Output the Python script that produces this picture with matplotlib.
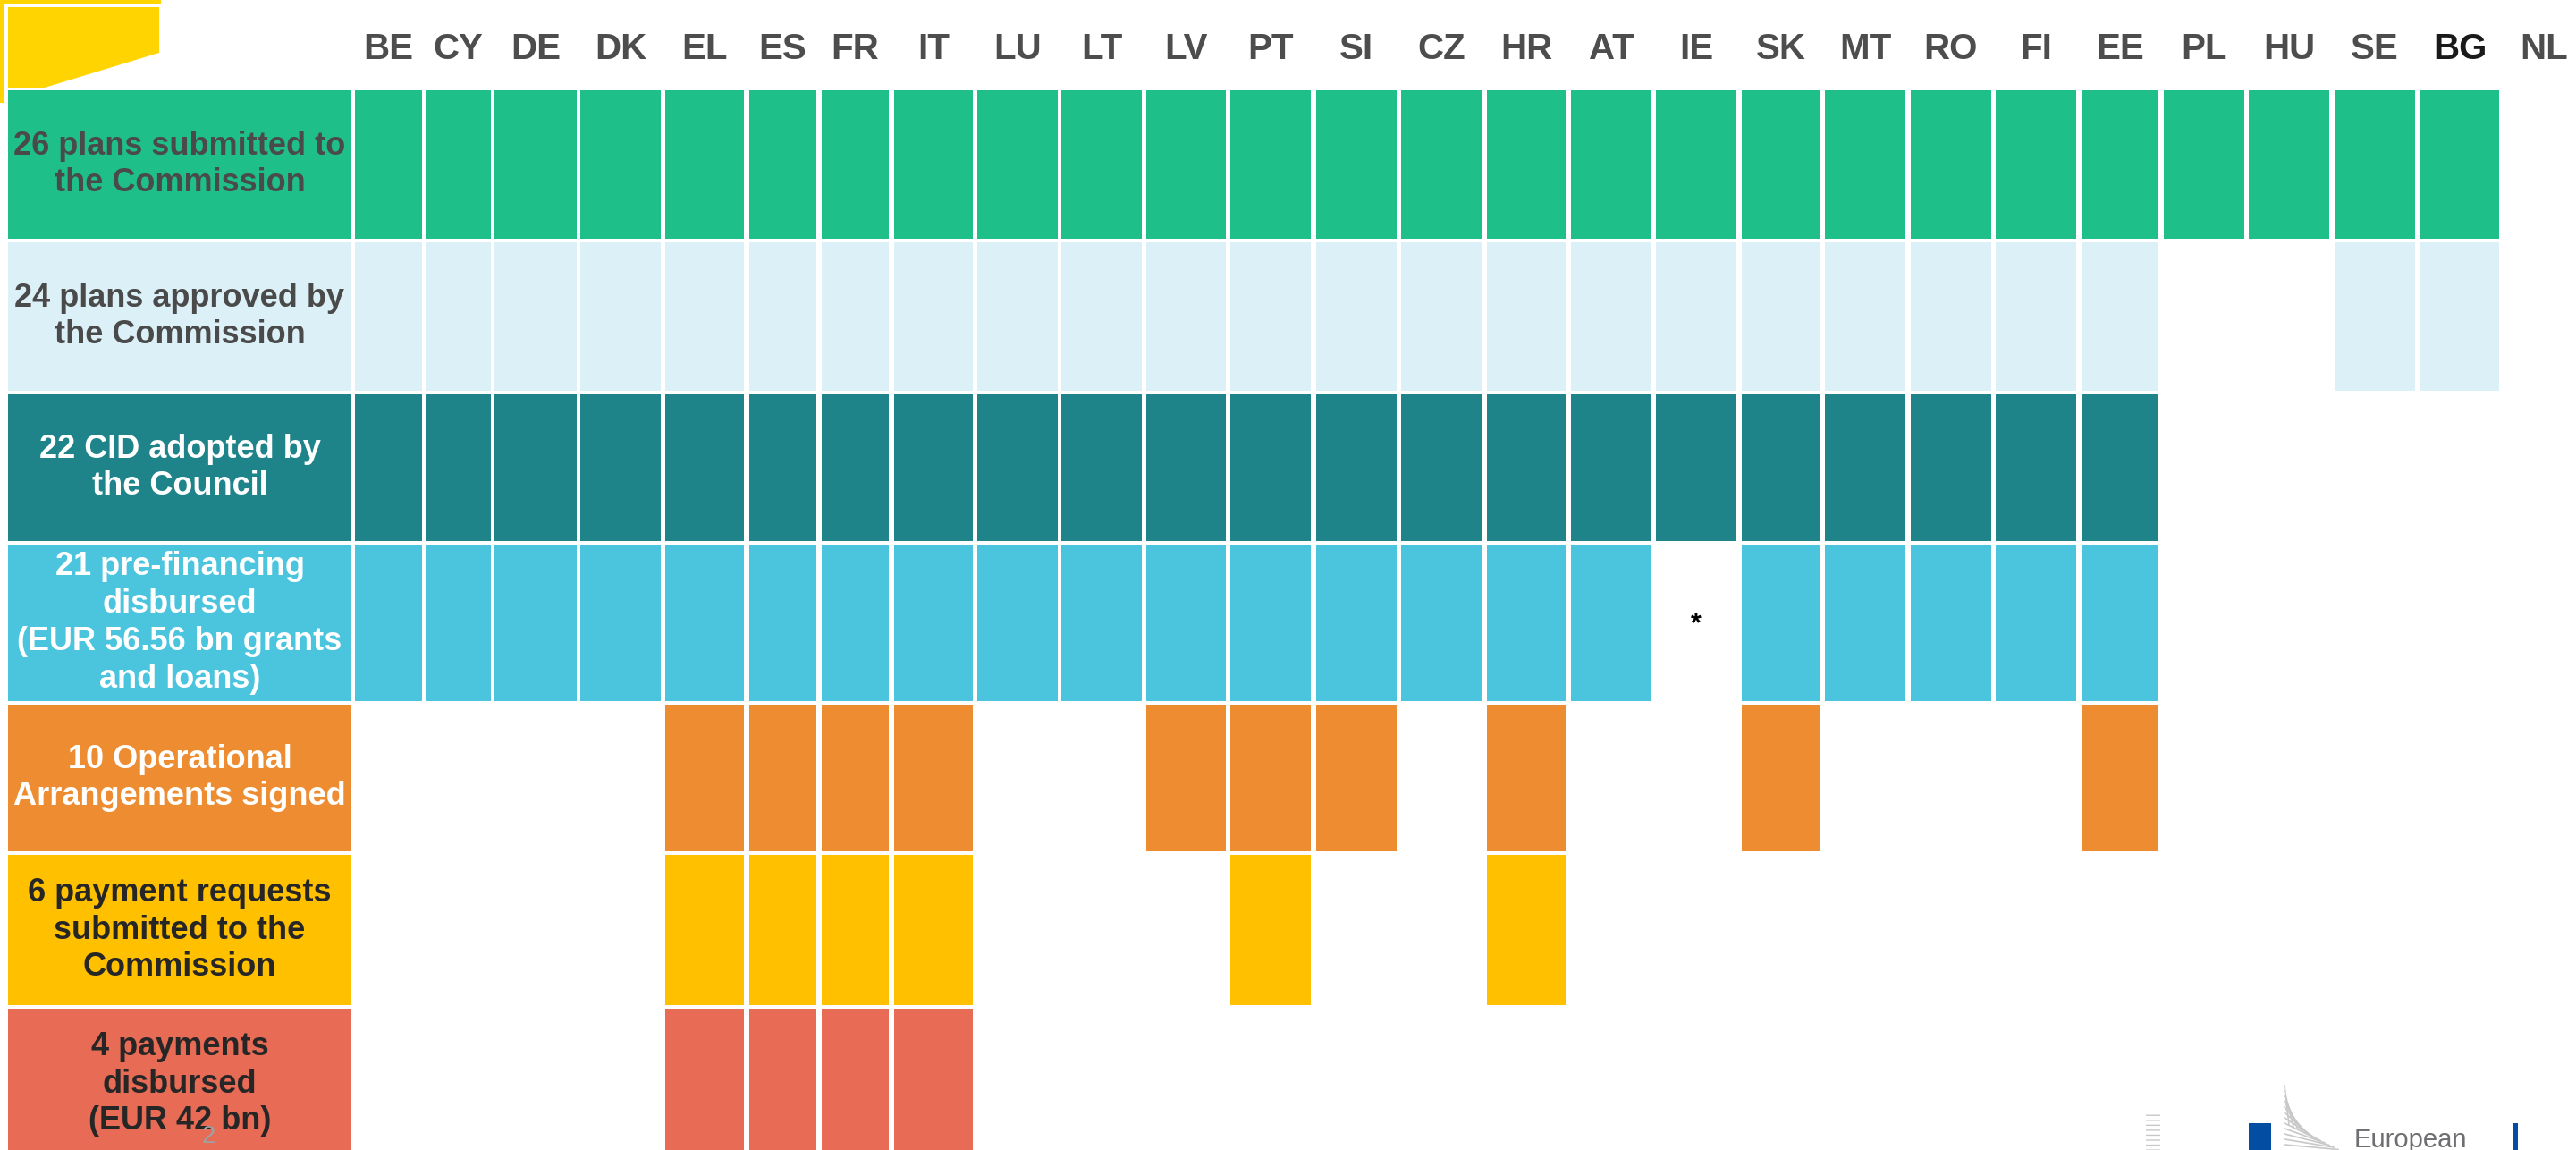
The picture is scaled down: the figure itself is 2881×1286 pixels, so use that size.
import matplotlib.pyplot as plt
from matplotlib.patches import Rectangle, Polygon

# countries in column order
countries = ['BE', 'CY', 'DE', 'DK', 'EL', 'ES', 'FR', 'IT', 'LU', 'LT', 'LV', 'PT', 'SI',
             'CZ', 'HR', 'AT', 'IE', 'SK', 'MT', 'RO', 'FI', 'EE', 'PL', 'HU', 'SE', 'BG', 'NL']

# stages (row labels) and which countries have reached each one
stage_labels = [
    '26 plans submitted to\nthe Commission',
    '24 plans approved by\nthe Commission',
    '22 CID adopted by\nthe Council',
    '21 pre-financing\ndisbursed\n(EUR 56.56 bn grants\nand loans)',
    '10 Operational\nArrangements signed',
    '6 payment requests\nsubmitted to the\nCommission',
    '4 payments\ndisbursed\n(EUR 42 bn)',
]
submitted = countries[:26]
approved = countries[:22] + ['SE', 'BG']
cid_adopted = countries[:22]
prefinancing = countries[:16] + countries[17:22]
op_arrangements = ['EL', 'ES', 'FR', 'IT', 'LV', 'PT', 'SI', 'HR', 'SK', 'EE']
payment_requests = ['EL', 'ES', 'FR', 'IT', 'PT', 'HR']
payments = ['EL', 'ES', 'FR', 'IT']
stages = [submitted, approved, cid_adopted, prefinancing, op_arrangements, payment_requests, payments]
footnote_country = 'IE'

# styling
row_colors = ['#1fbf89', '#dcf1f7', '#1e8489', '#4bc4de', '#ed8c31', '#ffc000', '#e86b55']
text_colors = ['#4a4a4a', '#4a4a4a', 'white', 'white', 'white', '#262626', '#262626']

# layout in pixels (figure is 2881 x 1286)
col_left = [397, 476, 553, 649, 744, 838, 919, 1000, 1093, 1187, 1282, 1376, 1472, 1567,
            1663, 1757, 1852, 1948, 2041, 2137, 2232, 2328, 2420, 2515, 2611, 2707, 2801]
col_right = [472, 549, 645, 739, 832, 913, 994, 1088, 1183, 1277, 1371, 1466, 1562, 1657,
             1751, 1847, 1942, 2036, 2131, 2227, 2322, 2414, 2510, 2605, 2701, 2795, 2890]
row_top = [101, 271, 441, 609, 788, 956, 1128]
row_bot = [267, 437, 605, 784, 952, 1124, 1296]
label_left, label_right = 9, 393

plt.rcParams['font.family'] = ['Liberation Sans', 'DejaVu Sans']

fig = plt.figure(figsize=(28.81, 12.86), dpi=100)
ax = fig.add_axes([0, 0, 1, 1])
ax.set_xlim(0, 2881)
ax.set_ylim(1286, 0)
ax.axis('off')

# yellow corner decoration
ax.add_patch(Polygon([(9, 8), (178, 8), (178, 59), (50, 98), (9, 98)], closed=True,
                     facecolor='#ffd400', edgecolor='none'))
ax.plot([0, 178], [2, 2], color='#ffd400', lw=3)
ax.plot([2, 2], [0, 113], color='#ffd400', lw=3)

# column headers
for i, c in enumerate(countries):
    xc = (col_left[i] + col_right[i]) / 2
    ax.text(xc, 55, c, ha='center', va='center', fontsize=29, fontweight='bold',
            color='#1a1a1a' if c == 'BG' else '#4d4d4d')

# rows
for r, members in enumerate(stages):
    y0, y1 = row_top[r], row_bot[r]
    ax.add_patch(Rectangle((label_left, y0), label_right - label_left, y1 - y0,
                           facecolor=row_colors[r], edgecolor='none'))
    ax.text((label_left + label_right) / 2, (y0 + y1) / 2, stage_labels[r], ha='center',
            va='center', fontsize=26, fontweight='bold', color=text_colors[r],
            linespacing=1.25)
    for c in members:
        i = countries.index(c)
        ax.add_patch(Rectangle((col_left[i], y0), col_right[i] - col_left[i], y1 - y0,
                               facecolor=row_colors[r], edgecolor='none'))

# footnote mark in the pre-financing row
i = countries.index(footnote_country)
ax.text((col_left[i] + col_right[i]) / 2, (row_top[3] + row_bot[3]) / 2 + 2, '*',
        ha='center', va='center', fontsize=22, fontweight='bold', color='black')

# page number
ax.text(233, 1284, '2', ha='center', va='bottom', fontsize=20, color='#a0a0a0')

# logo fragment, bottom right
ax.add_patch(Rectangle((2400, 1245), 16, 45, facecolor='none', edgecolor='#c8c8c8',
                       hatch='---', lw=0))
ax.add_patch(Rectangle((2515, 1256), 25, 40, facecolor='#034ea2', edgecolor='none'))
ax.add_patch(Rectangle((2810, 1256), 6, 40, facecolor='#034ea2', edgecolor='none'))
for k in range(12):
    ax.plot([2555, 2560 + k * 5], [1214 + k * 6, 1258 + k * 2.5], color='#c8c8c8', lw=1.2)
ax.text(2633, 1283, 'European', ha='left', va='baseline', fontsize=21, color='#6d6e71')

fig.savefig('out.png', dpi=100)
